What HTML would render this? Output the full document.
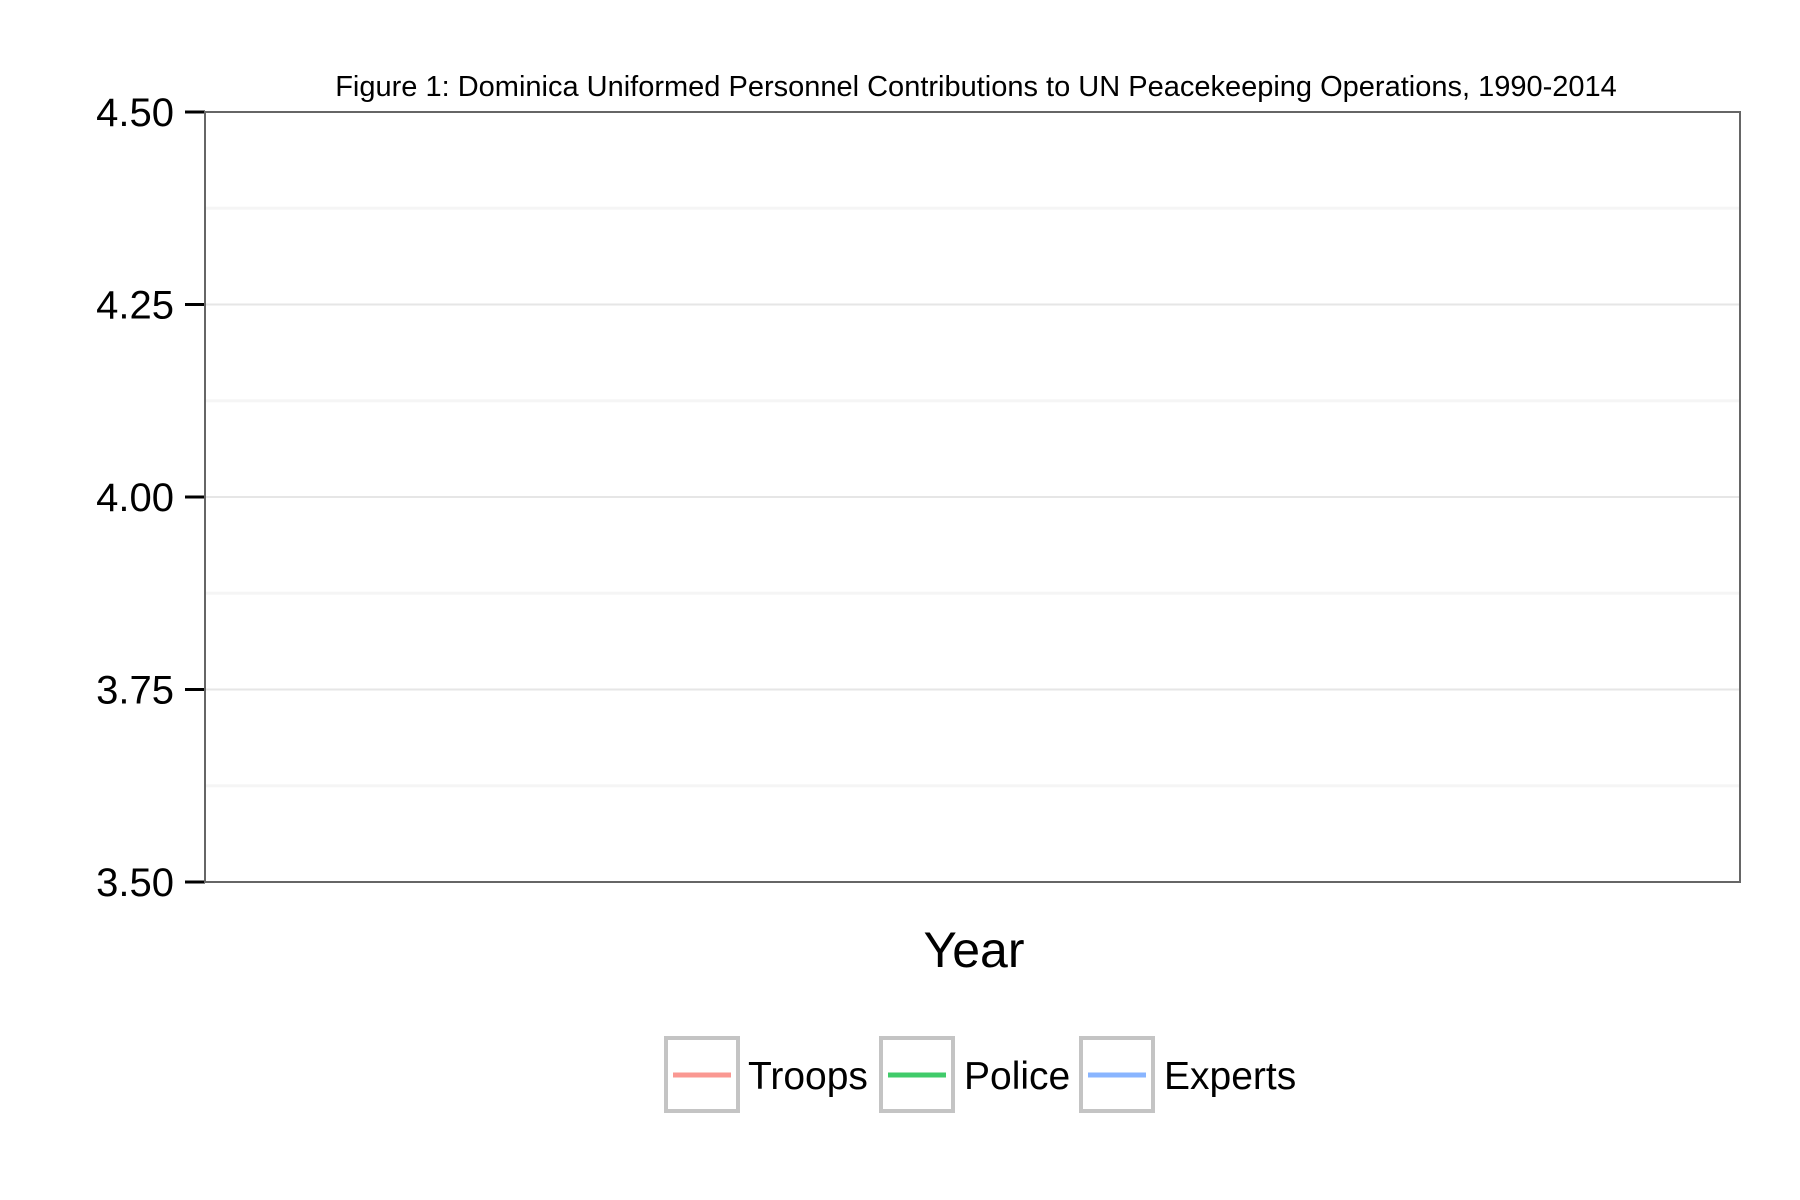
<!DOCTYPE html>
<html><head><meta charset="utf-8"><style>
html,body{margin:0;padding:0;background:#fff;}
svg{display:block;font-family:"Liberation Sans",Arial,sans-serif;}
</style></head><body>
<svg id="chart" width="1800" height="1200" viewBox="0 0 1800 1200"></svg>
<script>
const yTicks = [3.5, 3.75, 4.0, 4.25, 4.5];
const yTickLabels = ["3.50", "3.75", "4.00", "4.25", "4.50"];
const yMinor = [3.625, 3.875, 4.125, 4.375];
const seriesNames = ["Troops", "Police", "Experts"];
const seriesColors = ["#f8766d", "#00ba38", "#619cff"];
const troops = [];
const police = [];
const experts = [];
const years = [];

const svg = document.getElementById('chart');
const NS = 'http://www.w3.org/2000/svg';
const L = 205, R = 1740, T = 112, B = 882;
const yMin = 3.5, yMax = 4.5;
function y(v){ return B - (v - yMin) / (yMax - yMin) * (B - T); }
function x(v){ return years.length > 1 ? L + (v - years[0]) / (years[years.length-1] - years[0]) * (R - L) : (L+R)/2; }
function mk(tag, attrs, parent){
  const e = document.createElementNS(NS, tag);
  for (const k in attrs) e.setAttribute(k, attrs[k]);
  (parent || svg).appendChild(e);
  return e;
}

const title = mk('text', {x: 976, y: 96, 'text-anchor': 'middle', 'font-size': 29, fill: '#000'});


title.textContent = 'Figure 1: Dominica Uniformed Personnel Contributions to UN Peacekeeping Operations, 1990-2014';

yMinor.forEach(v => {
  const g = mk('line', {x1: L, x2: R, y1: y(v), y2: y(v), stroke: '#f5f5f5', 'stroke-width': 3});
  
  
});
yTicks.forEach((v, i) => {
  const g = mk('line', {x1: L, x2: R, y1: y(v), y2: y(v), stroke: '#e6e6e6', 'stroke-width': 2});
  
  
  const t = mk('line', {x1: 185, x2: 205, y1: y(v), y2: y(v), stroke: '#000', 'stroke-width': 3});
  
  
  const lb = mk('text', {x: 174, y: y(v) + 14, 'text-anchor': 'end', 'font-size': 40, fill: '#000'});
  
  
  lb.textContent = yTickLabels[i];
});

[troops, police, experts].forEach((s, si) => {
  if (s.length < 1) return;
  const pts = s.map((v, i) => x(years[i]) + ',' + y(v)).join(' ');
  const pl = mk('polyline', {points: pts, fill: 'none', stroke: seriesColors[si], 'stroke-width': 4});
  
  
});

const panel = mk('rect', {x: L, y: T, width: R - L, height: B - T, fill: 'none', stroke: '#666', 'stroke-width': 2});



const xt = mk('text', {x: 974, y: 967, 'text-anchor': 'middle', 'font-size': 50, fill: '#000'});


xt.textContent = 'Year';

const boxX = [666, 881, 1081];
const textX = [748, 964, 1164];
seriesNames.forEach((n, i) => {
  const g = mk('g', {});
  
  
  const b = mk('rect', {x: boxX[i], y: 1038, width: 72, height: 73, fill: '#fff', stroke: '#c4c4c4', 'stroke-width': 4}, g);
  
  
  const ln = mk('line', {x1: boxX[i] + 7, x2: boxX[i] + 65, y1: 1075, y2: 1075, stroke: seriesColors[i], 'stroke-width': 5, 'stroke-opacity': 0.75}, g);
  
  
  const t = mk('text', {x: textX[i], y: 1089, 'font-size': 39, fill: '#000'}, g);
  
  
  t.textContent = n;
});
</script>
</body></html>
